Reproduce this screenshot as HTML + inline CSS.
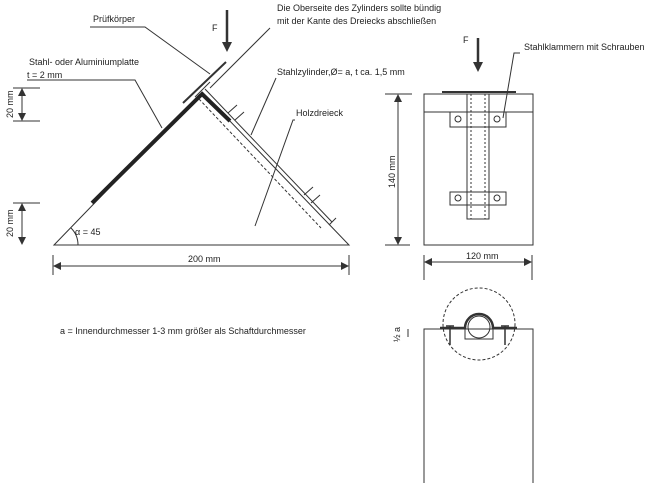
<!DOCTYPE html>
<html><head><meta charset="utf-8"><style>
body{margin:0;background:#fff}
svg{display:block}
text{font-family:"Liberation Sans",sans-serif;font-size:9px;fill:#222}
</style></head><body>
<svg width="671" height="483" viewBox="0 0 671 483" xmlns="http://www.w3.org/2000/svg">
<defs>
<marker id="a" markerWidth="8" markerHeight="8" refX="7" refY="4" orient="auto-start-reverse" markerUnits="userSpaceOnUse"><path d="M0,0L8,4L0,8z" fill="#333"/></marker>
</defs>
<g stroke="#333" fill="none" stroke-width="1">
<path d="M54,245L202,92L349,245Z"/>
<path d="M78,245A24,24 0 0 0 71,228"/>
<line x1="92" y1="203" x2="201" y2="95" stroke-width="4" stroke="#222"/>
<line x1="201" y1="93" x2="230" y2="121" stroke-width="4" stroke="#222"/>
<line x1="183" y1="103" x2="226" y2="62" stroke-width="2"/>
<line x1="195" y1="97" x2="210" y2="82"/>
<line x1="205" y1="89" x2="332" y2="222"/>
<line x1="329" y1="225" x2="336" y2="218"/>
<line x1="199" y1="99" x2="321" y2="228" stroke-dasharray="3,2"/>
<path d="M228,113L237,105M235,120L244,112M304,195L313,187M311,203L320,195"/>
<line x1="13" y1="88" x2="40" y2="88"/><line x1="13" y1="121" x2="40" y2="121"/>
<line x1="22" y1="89" x2="22" y2="120" marker-start="url(#a)" marker-end="url(#a)"/>
<line x1="13" y1="203" x2="40" y2="203"/>
<line x1="22" y1="204" x2="22" y2="244" marker-start="url(#a)" marker-end="url(#a)"/>
<line x1="53" y1="255" x2="53" y2="275"/><line x1="349" y1="255" x2="349" y2="275"/>
<line x1="54" y1="266" x2="348" y2="266" marker-start="url(#a)" marker-end="url(#a)"/>
<path d="M90,27L145,27L210,74"/>
<path d="M270,28L210,88"/>
<path d="M27,80L135,80L162,128"/>
<path d="M276,78L251,135"/>
<path d="M295,120L293,120L255,226"/>
<path d="M520,53L514,53L503,118"/>
<rect x="424" y="94" width="109" height="151"/>
<line x1="424" y1="112" x2="533" y2="112"/>
<line x1="442" y1="92" x2="516" y2="92" stroke-width="2"/>
<rect x="467" y="94" width="22" height="125"/>
<path d="M471,94V219M485,94V219" stroke-dasharray="2,2"/>
<rect x="450" y="112" width="56" height="15"/>
<rect x="450" y="192" width="56" height="13"/>
<circle cx="458" cy="119" r="3"/><circle cx="497" cy="119" r="3"/>
<circle cx="458" cy="198" r="3"/><circle cx="497" cy="198" r="3"/>
<line x1="385" y1="94" x2="412" y2="94"/><line x1="385" y1="245" x2="410" y2="245"/>
<line x1="398" y1="95" x2="398" y2="244" marker-start="url(#a)" marker-end="url(#a)"/>
<line x1="424" y1="255" x2="424" y2="280"/><line x1="532" y1="255" x2="532" y2="280"/>
<line x1="425" y1="262" x2="531" y2="262" marker-start="url(#a)" marker-end="url(#a)"/>
<path d="M424,483V329H533V483"/>
<circle cx="479" cy="324" r="36" stroke-dasharray="3,2"/>
<path d="M440,328H465A14,14 0 0 1 493,328H517" stroke-width="2.5"/>
<circle cx="479" cy="327" r="11"/>
<path d="M465,328V339H493V328"/>
<path d="M450,326V345M505,326V345M446,326H454M501,326H509" stroke-width="1.5"/>
<path d="M408,329V337"/>
</g>
<line x1="227" y1="10" x2="227" y2="42" stroke="#333" stroke-width="2.5"/>
<path d="M222,42L232,42L227,52z" fill="#333"/>
<line x1="478" y1="38" x2="478" y2="62" stroke="#333" stroke-width="2.5"/>
<path d="M473,62L483,62L478,72z" fill="#333"/>
<text x="212" y="31">F</text>
<text x="463" y="43">F</text>
<text x="93" y="22">Prüfkörper</text>
<text x="277" y="11">Die Oberseite des Zylinders sollte bündig</text>
<text x="277" y="24">mit der Kante des Dreiecks abschließen</text>
<text x="29" y="65">Stahl- oder Aluminiumplatte</text>
<text x="27" y="78">t = 2 mm</text>
<text x="277" y="75">Stahlzylinder,Ø= a, t ca. 1,5 mm</text>
<text x="296" y="116">Holzdreieck</text>
<text x="524" y="50">Stahlklammern mit Schrauben</text>
<text x="75" y="235">α = 45</text>
<text x="188" y="262">200 mm</text>
<text x="466" y="259">120 mm</text>
<text x="60" y="334">a = Innendurchmesser 1-3 mm größer als Schaftdurchmesser</text>
<text transform="translate(13,118) rotate(-90)">20 mm</text>
<text transform="translate(13,237) rotate(-90)">20 mm</text>
<text transform="translate(395,188) rotate(-90)">140 mm</text>
<text transform="translate(400,342) rotate(-90)">½ a</text>
</svg>
</body></html>
